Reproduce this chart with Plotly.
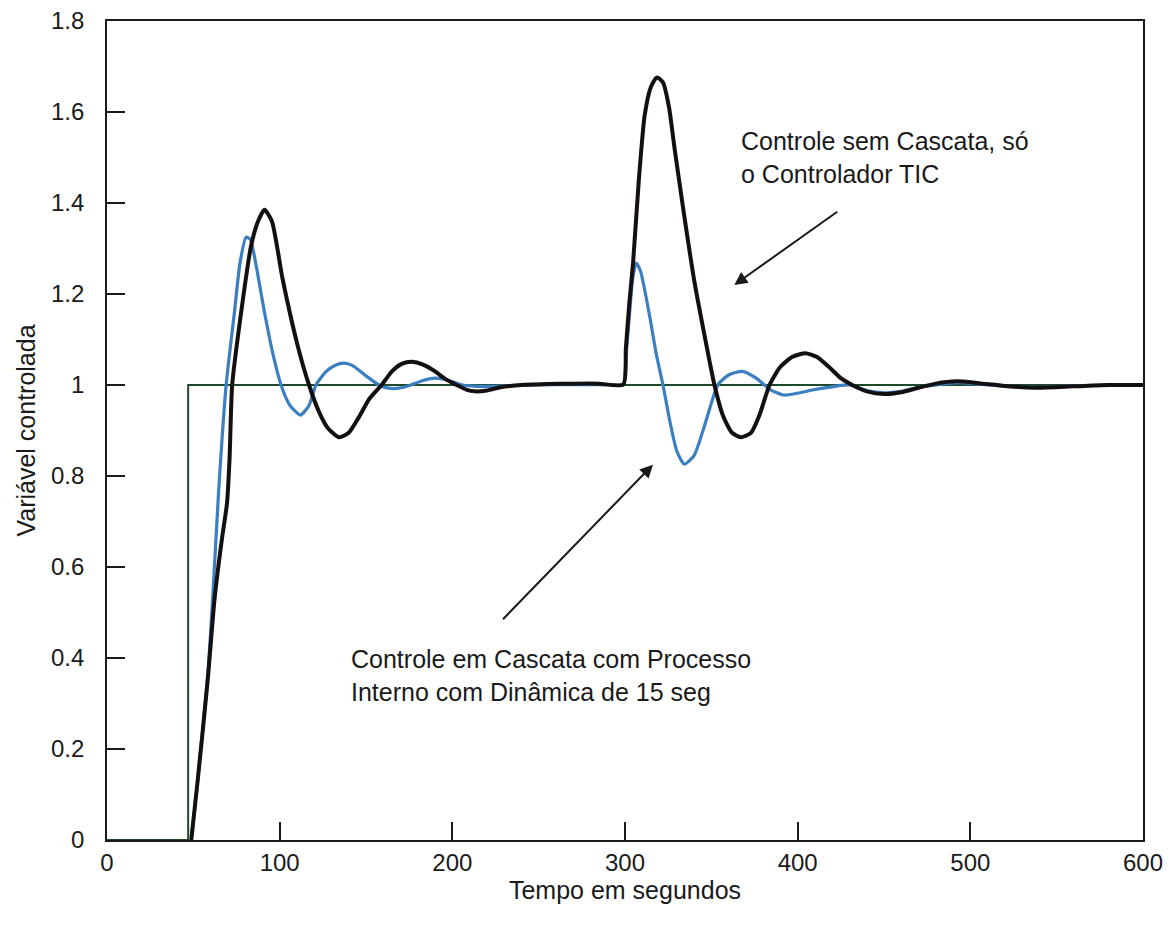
import plotly.graph_objects as go

# Setpoint step
sp_t = [0, 47, 47, 600]
sp_y = [0, 0, 1, 1]

# Control without cascade (only TIC controller)
nc_t = [48.8, 52.5, 58.3, 62.3, 66.5, 69.5, 71.0, 72.5, 77.7, 83.4, 87.5, 91.2, 95.5, 101.7, 110.4, 117.0,
        122.9, 128.0, 134.4, 140.0, 146.0, 152.0, 159.0, 165.0, 171.0, 176.6, 183.0, 190.0, 196.0, 202.5,
        208.0, 213.0, 220.0, 228.0, 240.0, 255.0, 270.0, 285.0, 299.0,
        300.5, 302.5, 304.7, 308.0, 311.4, 315.0, 318.5, 322.0, 325.5, 328.7, 334.0, 340.2, 346.0, 351.8,
        357.0, 362.0, 367.0, 373.0, 378.0, 383.7, 390.0, 397.0, 404.5, 411.0, 418.0, 425.0, 431.6,
        440.0, 450.0, 460.0, 470.0, 480.0, 492.0, 505.0, 520.0, 538.0, 560.0, 580.0, 600.0]
nc_y = [0.0, 0.13, 0.35, 0.53, 0.66, 0.74, 0.84, 1.0, 1.16, 1.305, 1.36, 1.385, 1.36, 1.233, 1.087, 1.0,
        0.94, 0.905, 0.885, 0.895, 0.93, 0.97, 1.0, 1.03, 1.047, 1.051, 1.045, 1.03, 1.013, 1.0,
        0.99, 0.986, 0.988, 0.995, 1.0, 1.002, 1.003, 1.003, 1.001,
        1.08, 1.18, 1.27, 1.45, 1.593, 1.655, 1.676, 1.665, 1.61, 1.52, 1.38, 1.227, 1.11, 1.0,
        0.93, 0.895, 0.885, 0.895, 0.935, 1.0, 1.04, 1.062, 1.07, 1.062, 1.04, 1.015, 1.0,
        0.986, 0.98, 0.984, 0.994, 1.003, 1.008, 1.004, 0.998, 0.994, 0.997, 1.0, 1.0]

# Cascade control with inner process dynamics of 15 s
cc_t = [48.8, 52.5, 58.3, 61.2, 64.7, 69.0, 73.8, 77.1, 80.6, 83.0, 86.0, 91.2, 96.0, 100.8, 106.0, 112.0,
        117.0, 121.0, 127.0, 132.0, 137.3, 142.0, 150.0, 157.5, 163.0, 169.0, 176.0, 183.0, 190.4, 198.0,
        206.0, 215.0, 230.0, 250.0, 270.0, 290.0, 299.0,
        300.5, 302.5, 304.5, 306.5, 309.0, 314.2, 318.0, 322.0, 326.0, 330.0, 334.4, 340.0, 346.0, 350.0,
        353.7, 360.0, 368.0, 376.0, 384.0, 392.0, 400.0, 410.0, 420.0, 430.0,
        440.0, 450.0, 460.0, 470.0, 480.0, 492.0, 505.0, 520.0, 540.0, 560.0, 600.0]
cc_y = [0.0, 0.13, 0.36, 0.53, 0.77, 1.0, 1.16, 1.27, 1.325, 1.32, 1.27, 1.16, 1.07, 1.0, 0.955, 0.934,
        0.955, 1.0, 1.03, 1.043, 1.048, 1.043, 1.02, 1.0, 0.993, 0.993, 1.0, 1.01, 1.015, 1.01,
        1.0, 0.997, 0.998, 1.0, 1.001, 1.001, 1.001,
        1.06, 1.15, 1.235, 1.268, 1.25, 1.153, 1.07, 1.0, 0.92, 0.855, 0.826, 0.845, 0.91, 0.96,
        1.0, 1.022, 1.03, 1.015, 0.99, 0.978, 0.982, 0.99, 0.996, 1.0,
        0.988, 0.983, 0.986, 0.995, 1.0, 1.005, 1.002, 0.997, 0.995, 0.998, 1.0]

x_ticks = [0, 100, 200, 300, 400, 500, 600]
y_ticks = [0, 0.2, 0.4, 0.6, 0.8, 1, 1.2, 1.4, 1.6, 1.8]

FONT = "Liberation Sans Narrow, Arial Narrow, Liberation Sans, Arial, sans-serif"
FS = 25
TFS = 24

fig = go.Figure()
fig.add_trace(go.Scatter(x=sp_t, y=sp_y, mode="lines",
                         line=dict(color="#1e4a2c", width=2), showlegend=False))
fig.add_trace(go.Scatter(x=cc_t, y=cc_y, mode="lines",
                         line=dict(color="#3b7ec2", width=3.2, shape="spline", smoothing=0.6), showlegend=False))
fig.add_trace(go.Scatter(x=nc_t, y=nc_y, mode="lines",
                         line=dict(color="#141012", width=4, shape="spline", smoothing=0.6), showlegend=False))

fig.add_annotation(x=366, y=1.5, xref="x", yref="y", xanchor="left", yanchor="middle",
                   text="Controle sem Cascata, só<br>o Controlador TIC", showarrow=False,
                   align="left", font=dict(family=FONT, size=FS, color="#1a1a1a"))
fig.add_annotation(x=140, y=0.362, xref="x", yref="y", xanchor="left", yanchor="middle",
                   text="Controle em Cascata com Processo<br>Interno com Dinâmica de 15 seg", showarrow=False,
                   align="left", font=dict(family=FONT, size=FS, color="#1a1a1a"))

fig.add_annotation(x=363.3, y=1.22, ax=423.8, ay=1.383, xref="x", yref="y", axref="x", ayref="y",
                   text="", showarrow=True, arrowhead=2, arrowsize=1.3, arrowwidth=2, arrowcolor="#1a1a1a")
fig.add_annotation(x=316.2, y=0.825, ax=228.5, ay=0.482, xref="x", yref="y", axref="x", ayref="y",
                   text="", showarrow=True, arrowhead=2, arrowsize=1.3, arrowwidth=2, arrowcolor="#1a1a1a")

# page body adds an 8px offset, so the figure is sized/margined to compensate
fig.update_layout(
    width=1163, height=912,
    margin=dict(l=99, r=28, t=13, b=80),
    paper_bgcolor="white", plot_bgcolor="white",
    font=dict(family=FONT, size=FS, color="#1a1a1a"),
)
fig.update_xaxes(range=[0, 600], tickvals=x_ticks, ticks="inside", ticklen=18, tickwidth=1.5,
                 tickcolor="#1a1a1a", showline=True, linecolor="#1a1a1a", linewidth=1.8, mirror=True,
                 showgrid=False, zeroline=False, ticklabelstandoff=0, automargin=False,
                 ticklabeloverflow="allow", tickfont=dict(size=TFS),
                 title=dict(text="Tempo em segundos", standoff=0, font=dict(size=FS)))
fig.update_yaxes(range=[0, 1.8], tickvals=y_ticks, ticks="inside", ticklen=18, tickwidth=1.5,
                 tickcolor="#1a1a1a", showline=True, linecolor="#1a1a1a", linewidth=1.8, mirror=True,
                 showgrid=False, zeroline=False, ticklabelstandoff=16, automargin=False,
                 ticklabeloverflow="allow", tickfont=dict(size=TFS),
                 title=dict(text="Variável controlada", standoff=8, font=dict(size=FS)))

fig.write_html("out.html")
